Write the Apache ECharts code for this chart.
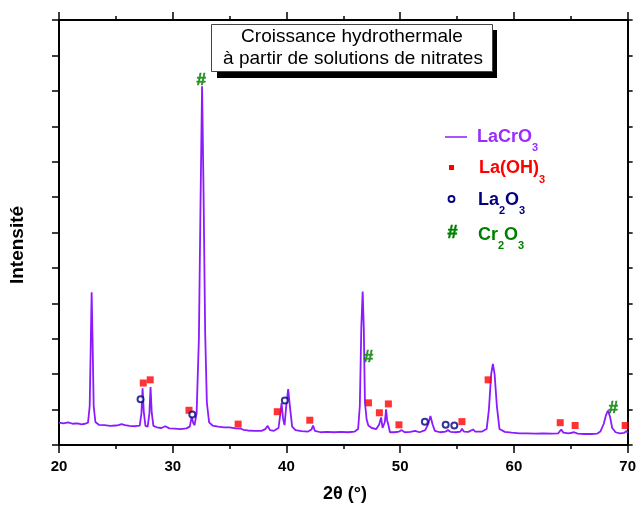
<!DOCTYPE html>
<html>
<head>
<meta charset="utf-8">
<script src="https://cdn.jsdelivr.net/npm/echarts@6/dist/echarts.min.js"></script>
<style>html,body{margin:0;padding:0;background:#fff}#c{width:639px;height:506px}</style>
</head>
<body>
<div id="c"></div>
<script>
// ---- data ----
const twoTheta = [20.0,20.4,20.8,21.2,21.6,22.0,22.3,22.55,22.7,22.8,22.87,22.95,23.05,23.2,23.5,24.0,24.5,25.0,25.3,25.5,25.8,26.2,26.7,27.1,27.25,27.35,27.45,27.6,27.8,27.95,28.05,28.15,28.3,28.6,29.0,29.35,29.7,30.2,30.7,31.2,31.5,31.67,31.8,31.92,32.1,32.3,32.45,32.58,32.7,32.85,33.0,33.2,33.5,34.0,34.5,35.0,35.5,36.0,36.2,36.6,37.2,37.8,38.15,38.35,38.55,38.9,39.3,39.45,39.57,39.7,39.83,39.98,40.15,40.3,40.5,40.8,41.3,41.9,42.2,42.34,42.5,43.0,43.6,44.2,44.8,45.4,46.0,46.3,46.45,46.58,46.7,46.8,46.9,47.05,47.2,47.5,47.9,48.15,48.32,48.45,48.55,48.65,48.76,48.85,48.95,49.1,49.5,49.9,50.12,50.4,50.9,51.3,51.7,52.2,52.45,52.66,52.85,53.05,53.5,54.0,54.2,54.45,54.9,55.3,55.43,55.6,56.0,56.4,56.6,57.2,57.6,57.8,58.0,58.15,58.3,58.5,58.73,59.2,59.8,60.5,61.2,61.9,62.6,63.3,63.9,64.15,64.35,64.8,65.3,65.6,66.2,66.8,67.3,67.6,67.9,68.1,68.27,68.45,68.64,68.94,69.3,69.7,69.9,70.0];
const intensity = [63,61,64,60,61,58,60,63,110,300,431,300,110,65,57,56,54,55,57,59,56,54,53,55,90,160,95,54,52,90,164,92,54,50,48,53,47,46,45,47,52,80,62,56,90,300,700,1013,740,320,120,64,55,52,50,50,47,46,43,41,40,40,45,54,42,40,48,85,118,75,56,110,158,110,52,42,39,38,44,55,40,36,37,36,37,36,38,45,110,330,433,330,120,72,55,48,45,58,78,48,43,65,101,70,58,36,36,38,42,36,37,40,36,42,58,82,58,40,36,38,42,37,36,38,46,38,37,44,38,38,45,100,200,229,200,110,45,37,35,33,33,32,33,32,33,44,35,33,36,32,31,31,32,38,60,85,97,80,48,36,33,34,40,34];

const laOH3X = [27.41,28.02,31.43,35.75,39.19,42.05,47.21,48.17,48.96,49.89,55.43,57.73,64.07,65.38,69.78];
const laOH3Y = [175,184,98,59,94,70,119,91,116,57,66,184,63,55,55];
const la2O3X = [27.17,31.72,39.86,52.17,54.0,54.76];
const la2O3Y = [129,86,126,66,57,55];
const cr2O3X = [32.51,47.21,68.73];
const cr2O3Y = [1031,249,104];

const xMin = 20, xMax = 70, xStep = 10;
const yMin = 0, yMax = 1200, yStep = 100;

const titleLines = ['Croissance hydrothermale', 'à partir de solutions de nitrates'];
const xName = '2θ (°)';
const yName = 'Intensité';

// ---- chart ----
const FONT = '"Liberation Sans", Arial, sans-serif';
const chart = echarts.init(document.getElementById('c'), null, {renderer: 'canvas'});
const zip = (a, b) => a.map((v, i) => [v, b[i]]);

function measure(text, size, weight) {
  const ctx = document.createElement('canvas').getContext('2d');
  ctx.font = (weight || 'normal') + ' ' + size + 'px ' + FONT;
  return ctx.measureText(text).width;
}

// text with subscripts: parts = [[text, isSub], ...]
function subText(parts, x, midY, color) {
  const out = [];
  let cx = x;
  parts.forEach(([t, sub]) => {
    const size = sub ? 11 : 18;
    out.push({
      type: 'text', x: cx, y: sub ? midY + 11 : midY, z: 10,
      style: {text: t, fill: color, fontSize: size, fontWeight: 'bold', fontFamily: FONT,
        align: 'left', textAlign: 'left', verticalAlign: 'middle', textVerticalAlign: 'middle'}
    });
    cx += measure(t, size, 'bold');
  });
  return out;
}

const axisCommon = {
  type: 'value', min: xMin, max: xMax, interval: xStep,
  axisLine: {show: true, onZero: false, lineStyle: {color: '#000', width: 2}},
  axisTick: {show: true, inside: false, length: 8, lineStyle: {color: '#000', width: 1.5}},
  minorTick: {show: true, splitNumber: 2, length: 4, lineStyle: {color: '#000', width: 1.5}},
  splitLine: {show: false}, minorSplitLine: {show: false}
};
const yCommon = {
  type: 'value', min: yMin, max: yMax, interval: yStep,
  axisLine: {show: true, onZero: false, lineStyle: {color: '#000', width: 2}},
  axisLabel: {show: false},
  splitLine: {show: false}
};

const graphic = [
  {type: 'rect', shape: {x: 217, y: 30, width: 280, height: 48}, style: {fill: '#000'}, z: 10},
  {type: 'rect', shape: {x: 211.5, y: 24.5, width: 281, height: 47}, style: {fill: '#fff', stroke: '#444', lineWidth: 1}, z: 11},
  {type: 'text', x: 352, y: 36.5, z: 12, style: {text: titleLines[0], fill: '#000', fontSize: 19, fontFamily: FONT, align: 'center', textAlign: 'center', verticalAlign: 'middle', textVerticalAlign: 'middle'}},
  {type: 'text', x: 353, y: 58.5, z: 12, style: {text: titleLines[1], fill: '#000', fontSize: 19, fontFamily: FONT, align: 'center', textAlign: 'center', verticalAlign: 'middle', textVerticalAlign: 'middle'}},
  {type: 'text', x: 345, y: 494, style: {text: xName, fill: '#000', fontSize: 18, fontWeight: 'bold', fontFamily: FONT, align: 'center', textAlign: 'center', verticalAlign: 'middle', textVerticalAlign: 'middle'}},
  {type: 'text', x: 18, y: 245, rotation: Math.PI / 2, style: {text: yName, fill: '#000', fontSize: 19, fontWeight: 'bold', fontFamily: FONT, align: 'center', textAlign: 'center', verticalAlign: 'middle', textVerticalAlign: 'middle'}},
  // legend
  {type: 'line', shape: {x1: 445, y1: 137, x2: 467, y2: 137}, style: {stroke: '#8c1aff', lineWidth: 1.5}},
  {type: 'rect', shape: {x: 449, y: 165, width: 5, height: 5}, style: {fill: '#ff0000'}},
  {type: 'circle', shape: {cx: 451.5, cy: 199, r: 3}, style: {fill: 'none', stroke: '#000080', lineWidth: 1.8}},
  {type: 'text', x: 452.5, y: 233, style: {text: '#', fill: '#008000', fontSize: 18, fontWeight: 'bold', fontFamily: FONT, stroke: '#008000', lineWidth: 0.6, align: 'center', textAlign: 'center', verticalAlign: 'middle', textVerticalAlign: 'middle'}}
].concat(
  subText([['LaCrO', false], ['3', true]], 477, 137, '#9a2cff'),
  subText([['La(OH)', false], ['3', true]], 479, 168.5, '#ff0000'),
  subText([['La', false], ['2', true], ['O', false], ['3', true]], 478, 200, '#000080'),
  subText([['Cr', false], ['2', true], ['O', false], ['3', true]], 478, 235, '#008000')
);

chart.setOption({
  animation: false,
  backgroundColor: '#fff',
  grid: {left: 59, right: 8, top: 20, bottom: 61, containLabel: false},
  xAxis: [
    Object.assign({}, axisCommon, {position: 'bottom',
      axisLabel: {show: true, fontSize: 15, fontWeight: 'bold', color: '#000', margin: 14, fontFamily: FONT}}),
    Object.assign({}, axisCommon, {position: 'top', axisLabel: {show: false}})
  ],
  yAxis: [
    Object.assign({}, yCommon, {position: 'left', axisTick: {show: true, inside: false, length: 7, lineStyle: {color: '#000', width: 1.5}}}),
    Object.assign({}, yCommon, {position: 'right', axisTick: {show: true, inside: false, length: 5, lineStyle: {color: '#000', width: 1.5}}})
  ],
  series: [
    {type: 'line', name: 'LaCrO3', data: zip(twoTheta, intensity), showSymbol: false, smooth: false,
      lineStyle: {color: '#8c1aff', width: 1.8}, z: 2},
    {type: 'scatter', name: 'La(OH)3', data: zip(laOH3X, laOH3Y), symbol: 'rect', symbolSize: 7,
      itemStyle: {color: '#ff0000'}, z: 3},
    {type: 'scatter', name: 'La2O3', data: zip(la2O3X, la2O3Y), symbol: 'emptyCircle', symbolSize: 6,
      itemStyle: {color: '#000080', borderColor: '#000080', borderWidth: 1.5}, z: 3},
    {type: 'scatter', name: 'Cr2O3', data: zip(cr2O3X, cr2O3Y), symbol: 'circle', symbolSize: 2,
      itemStyle: {color: 'rgba(0,0,0,0)'},
      label: {show: true, position: 'inside', formatter: '#', color: '#008000', fontSize: 17, fontWeight: 'bold', fontFamily: FONT,
        textBorderColor: '#008000', textBorderWidth: 0.6}, z: 3}
  ],
  graphic: graphic
});
</script>
</body>
</html>
